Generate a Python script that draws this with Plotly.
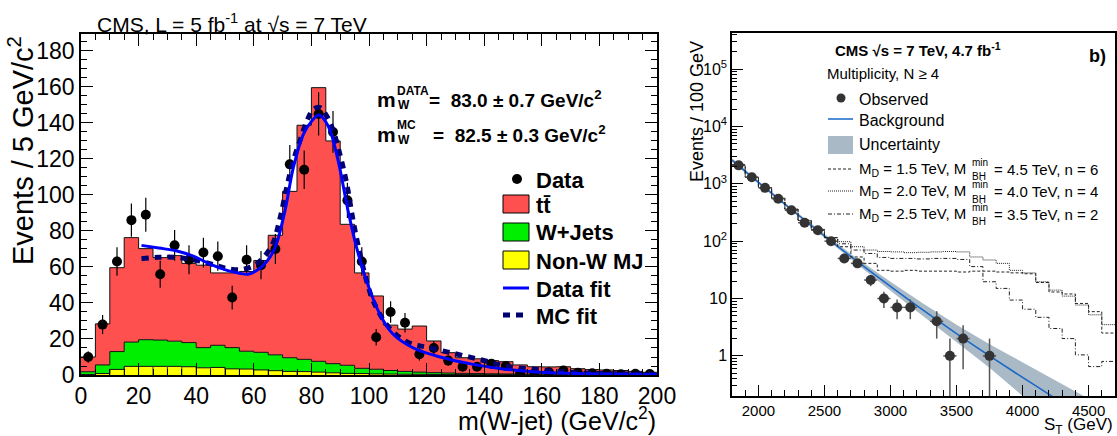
import numpy as np
import plotly.graph_objects as go

W, H = 1117, 436
FONT = "Liberation Sans, Arial, sans-serif"

# ---------------- Left panel data ----------------
bin_edges_l = list(range(0, 205, 5))
nonw = [0.3, 0.8, 3.1, 4.8, 4.8, 4.8, 4.8, 4.6, 4.0, 4.2, 3.4, 3.3, 2.8, 2.4, 2.0, 1.9, 1.6, 1.2, 0.9, 0.8,
        0.6, 0.5, 0.4, 0.35, 0.3, 0.3, 0.25, 0.2, 0.2, 0.2, 0.15, 0.15, 0.1, 0.1, 0.1, 0.1, 0.1, 0.05, 0.05, 0.05]
wjets = [1.5, 4.8, 9.9, 13.5, 14.8, 14.6, 14.0, 13.4, 11.2, 12.3, 11.8, 9.9, 9.8, 8.8, 7.6, 6.8, 6.0, 5.1, 4.5, 2.9,
         2.6, 2.0, 1.6, 1.25, 1.0, 0.8, 0.65, 0.6, 0.5, 0.4, 0.35, 0.35, 0.3, 0.3, 0.2, 0.2, 0.2, 0.15, 0.15, 0.15]
ttbar = [8.2, 22.8, 46.6, 58.0, 50.6, 45.8, 47.5, 44.0, 45.8, 40.2, 41.5, 44.3, 51.0, 66.4, 92.4, 130.0, 152.0, 123.7, 78.3, 53.0,
         40.7, 25.2, 23.5, 25.6, 17.6, 11.3, 8.7, 8.2, 7.3, 6.8, 5.1, 4.1, 4.1, 4.2, 3.2, 2.7, 2.5, 2.3, 1.8, 1.3]
data_centers = [2.5 + 5 * i for i in range(40)]
data_vals = [10, 28, 63, 86, 89, 56, 72, 64, 68, 66, 43, 64, 61, 70, 117, 114, 145, 135, 97, 63,
             21, 35, 29, 11.5, 15, 8, 4.6, 4.6, 6.3, 5, 1, 1, 1.5, 2.5, 1.2, 1, 0.7, 0.4, 0.7, 0.5]

datafit_x = [21, 27, 33, 39, 45, 51, 55, 58, 61, 64.5, 67.4, 70.8, 73.7, 77.2, 80.1, 82.6, 85.9, 89.3, 92.5, 95.7,
             99.2, 103.8, 108.4, 115.4, 124.7, 136.2, 147.8, 159.4, 172, 186, 200]
datafit_y = [72, 70.5, 69, 66, 61.5, 58, 56.5, 56, 58, 63, 70.7, 91, 115, 133.7, 141, 144.4, 138, 118.9, 93, 70.7,
             52, 33.7, 22.6, 15, 10, 5.9, 3.1, 1.5, 0.9, 0.5, 0.3]
mcfit_x = [21, 27, 32, 37, 42, 46.5, 51, 56, 60.5, 64, 66.6, 69.1, 71.4, 73.7, 76, 78.4, 80.7, 83, 85.3, 87.6,
           89.9, 92.3, 94.5, 96.9, 99.2, 101.5, 106.1, 110.8, 115.4, 120, 128, 138, 148, 158, 168, 180, 190, 200]
mcfit_y = [64.6, 65.4, 65.4, 64.6, 63, 61, 59, 58.6, 61.2, 66.5, 73, 87, 104, 119, 130, 141, 147.6, 148.5, 143.9, 135.6,
           122.6, 106, 85.6, 67, 52, 41, 28, 20.7, 17, 15.5, 12.5, 8.8, 4.8, 3.1, 1.6, 0.9, 0.5, 0.3]

# ---------------- Right panel data ----------------
obs_x = [1850, 1950, 2050, 2150, 2250, 2350, 2450, 2550, 2650, 2750, 2850, 2950, 3050, 3150, 3350, 3450, 3550, 3750]
obs_y = [2100, 1300, 850, 550, 345, 210, 155, 100, 50, 41, 21, 10, 7, 7, 4, 1, 2, 1]
bkg_x = [1800, 2000, 2250, 2500, 2750, 3000, 3250, 3500, 3750, 4000, 4250, 4500, 4700]
bkg_y = [2600, 1060, 356, 123, 44, 16.3, 6.2, 2.45, 1.0, 0.42, 0.18, 0.075, 0.04]
band_hi = [2800, 1125, 377, 133, 49.3, 19.6, 8.1, 3.5, 1.6, 0.78, 0.38, 0.18, 0.1]
band_lo = [2400, 1000, 336, 114, 39.3, 13.6, 4.8, 1.73, 0.62, 0.2, 0.086, 0.031, 0.015]
sig_edges = list(range(1800, 4800, 100))
sig_low = [2150, 1300, 860, 560, 360, 230, 160, 115]
sig_md15 = sig_low + [80, 53, 41, 31, 30, 31, 30, 30, 30, 29, 30, 30, 29, 28, 27, 19, 13, 12, 8.2, 5.9, 2.5]
sig_md20 = sig_low + [98, 80, 70, 66, 65, 63, 64, 65, 66, 65, 53, 47, 41, 31, 28, 19.6, 14, 11, 7.7, 5.2, 3.5]
sig_md25 = sig_low + [90, 70, 61, 52, 50, 50, 49, 50, 50, 48, 36, 19.6, 15, 9.4, 6.5, 4.7, 3.0, 2.0, 1.04, 0.65, 0.8]

fig = go.Figure()

# stacked histogram (left)
lvl1 = np.array(nonw)
lvl2 = lvl1 + np.array(wjets)
lvl3 = lvl2 + np.array(ttbar)
def step(v):
    return list(v) + [v[-1]]
for vals, col, fillmode in [(lvl1, "#ffff00", "tozeroy"), (lvl2, "#00ee00", "tonexty"), (lvl3, "#ff5050", "tonexty")]:
    fig.add_trace(go.Scatter(x=bin_edges_l, y=step(vals), mode="lines", line=dict(shape="hv", color="#111", width=1),
                             fill=fillmode, fillcolor=col, xaxis="x", yaxis="y", showlegend=False, hoverinfo="skip"))
# yellow bin separators
sx, sy = [], []
for i in range(1, 40):
    sx += [bin_edges_l[i], bin_edges_l[i], None]
    sy += [0, max(lvl1[i - 1], lvl1[i]), None]
fig.add_trace(go.Scatter(x=sx, y=sy, mode="lines", line=dict(color="#333", width=1), xaxis="x", yaxis="y",
                         showlegend=False, hoverinfo="skip"))
# data points
fig.add_trace(go.Scatter(x=data_centers, y=data_vals, mode="markers", marker=dict(color="black", size=10),
                         error_y=dict(type="data", array=list(np.sqrt(data_vals)), color="black", thickness=1.2, width=0),
                         xaxis="x", yaxis="y", showlegend=False))
fig.add_trace(go.Scatter(x=mcfit_x, y=mcfit_y, mode="lines", line=dict(color="#000070", width=5, dash="7px,6px", shape="spline"),
                         xaxis="x", yaxis="y", showlegend=False))
fig.add_trace(go.Scatter(x=datafit_x, y=datafit_y, mode="lines", line=dict(color="#0000ff", width=3, shape="spline"),
                         xaxis="x", yaxis="y", showlegend=False))

# right panel
fig.add_trace(go.Scatter(x=bkg_x + bkg_x[::-1], y=band_hi + band_lo[::-1], fill="toself", fillcolor="#a9b9c6",
                         line=dict(width=0), mode="lines", xaxis="x2", yaxis="y2", showlegend=False, hoverinfo="skip"))
fig.add_trace(go.Scatter(x=bkg_x, y=bkg_y, mode="lines", line=dict(color="#1767c8", width=1.5, shape="spline"),
                         xaxis="x2", yaxis="y2", showlegend=False))
for sig, dash in [(sig_md15, "3px,2px"), (sig_md20, "1px,1px"), (sig_md25, "4px,2px,1px,2px")]:
    fig.add_trace(go.Scatter(x=sig_edges, y=step(sig), mode="lines", line=dict(shape="hv", color="#222", width=1, dash=dash),
                             xaxis="x2", yaxis="y2", showlegend=False))
obs_err = list(np.sqrt(obs_y))
obs_err_lo = [min(e, v * 0.999) for e, v in zip(obs_err, obs_y)]
fig.add_trace(go.Scatter(x=obs_x, y=obs_y, mode="markers", marker=dict(color="#333", size=10),
                         error_y=dict(type="data", array=obs_err, arrayminus=obs_err_lo, color="#555", thickness=1.5, width=0),
                         error_x=dict(type="constant", value=50, color="#555", thickness=1.5, width=0),
                         xaxis="x2", yaxis="y2", showlegend=False))

def px(x):
    return x / W
def py(y):
    return 1 - y / H

axis_common = dict(showline=True, linecolor="black", linewidth=1.5, ticks="inside", tickcolor="black",
                   showgrid=False, zeroline=False, automargin=False)
fig.update_layout(
    width=W, height=H, margin=dict(l=0, r=0, t=0, b=0, pad=0, autoexpand=False),
    paper_bgcolor="white", plot_bgcolor="white", showlegend=False,
    font=dict(family=FONT, color="black"),
    xaxis=dict(domain=[px(81), px(657)], range=[0, 200], anchor="y", dtick=20, ticklen=12, mirror="allticks",
               tickfont=dict(size=23), minor=dict(dtick=5, ticklen=6, ticks="inside", tickcolor="black"), **axis_common),
    yaxis=dict(domain=[py(375), py(34)], range=[0, 189.4], anchor="x", dtick=20, ticklen=12, mirror="allticks",
               tickfont=dict(size=23), minor=dict(dtick=5, ticklen=6, ticks="inside", tickcolor="black"), **axis_common),
    xaxis2=dict(domain=[px(732), px(1115)], range=[1800, 4700], anchor="y2", dtick=500, ticklen=11, mirror=True,
                tickfont=dict(size=15), minor=dict(dtick=100, ticklen=6, ticks="inside", tickcolor="black"), **axis_common),
    yaxis2=dict(domain=[py(396), py(33)], type="log", range=[-0.7, 5.63], anchor="x2", ticklen=11, mirror=True,
                tickmode="array", tickvals=[1, 10, 100, 1e3, 1e4, 1e5],
                ticktext=["1", "10", "10<sup>2</sup>", "10<sup>3</sup>", "10<sup>4</sup>", "10<sup>5</sup>"],
                tickfont=dict(size=16),
                minor=dict(tickmode="array", tickvals=[m * 10 ** e for e in range(-1, 6) for m in range(2, 10)],
                           ticklen=5, ticks="inside", tickcolor="black"), **axis_common),
)

ann = []
def text(x, y, s, size, bold=False, xanchor="left", yanchor="middle", angle=0, color="black"):
    if bold:
        s = "<b>" + s + "</b>"
    ann.append(dict(x=px(x), y=py(y), xref="paper", yref="paper", text=s, showarrow=False, xanchor=xanchor,
                    yanchor=yanchor, textangle=angle, font=dict(size=size, color=color, family=FONT),
                    borderpad=0))

shapes = []
def rect(x0, y0, x1, y1, fill, line="black", lw=1):
    shapes.append(dict(type="rect", xref="paper", yref="paper", x0=px(x0), x1=px(x1), y0=py(y1), y1=py(y0),
                       fillcolor=fill, line=dict(color=line, width=lw)))
def hline(x0, x1, y, color, width, dash="solid"):
    shapes.append(dict(type="line", xref="paper", yref="paper", x0=px(x0), x1=px(x1), y0=py(y), y1=py(y),
                       line=dict(color=color, width=width, dash=dash)))
def dot(x, y, r, color):
    shapes.append(dict(type="circle", xref="paper", yref="paper", x0=px(x - r), x1=px(x + r), y0=py(y + r), y1=py(y - r),
                       fillcolor=color, line=dict(color=color, width=0)))

# left texts
text(96, 23, "CMS, L = 5 fb<sup>-1</sup> at √s = 7 TeV", 21)
text(21, 151, "Events / 5 GeV/c<sup>2</sup>", 29, angle=-90, xanchor="center")
text(657, 419, "m(W-jet) (GeV/c<sup>2</sup>)", 25, xanchor="right")
text(376, 99, "m", 21, bold=True)
text(396, 91, "DATA", 12, bold=True)
text(397, 105, "W", 12, bold=True)
text(428, 99, "=  83.0 ± 0.7 GeV/c<sup>2</sup>", 19, bold=True)
text(376, 134, "m", 21, bold=True)
text(396, 125, "MC", 12, bold=True)
text(397, 140, "W", 12, bold=True)
text(432, 134, "=  82.5 ± 0.3 GeV/c<sup>2</sup>", 19, bold=True)
# left legend
dot(517, 179, 5, "black")
text(535, 180, "Data", 22, bold=True)
rect(503, 195, 529, 213, "#ff5050")
text(535, 206, "tt\u0304", 22, bold=True)
rect(503, 223, 529, 241, "#00ee00")
text(535, 233, "W+Jets", 22, bold=True)
rect(503, 251, 529, 269, "#ffff00")
text(535, 261, "Non-W MJ", 22, bold=True)
hline(503, 529, 288, "#0000ff", 3)
text(535, 289, "Data fit", 22, bold=True)
hline(503, 529, 315, "#000070", 5, "7px,6px")
text(535, 316, "MC fit", 22, bold=True)

# right texts
text(697, 112, "Events / 100 GeV", 18, angle=-90, xanchor="center")
text(1114, 426, "S<sub>T</sub> (GeV)", 17, xanchor="right")
text(834, 50, "CMS √s = 7 TeV, 4.7 fb<sup>-1</sup>", 15, bold=True)
text(1088, 56, "b)", 18, bold=True)
text(826, 73, "Multiplicity, N ≥ 4", 15)
dot(841, 98, 4.5, "#333")
text(858, 99, "Observed", 16)
hline(828, 853, 119, "#1767c8", 1.5)
text(858, 120, "Background", 16)
rect(828, 136, 853, 154, "#a9b9c6", line="#a9b9c6", lw=0)
text(858, 145, "Uncertainty", 16)
for yy, md, mbh, n, dash in [(169, "1.5", "4.5", "6", "3px,2px"), (191, "2.0", "4.0", "4", "1px,1px"),
                             (214, "2.5", "3.5", "2", "4px,2px,1px,2px")]:
    hline(828, 853, yy, "#222", 1, dash)
    text(858, yy, "M<sub>D</sub> = " + md + " TeV, M", 15)
    text(971, yy - 7, "min", 10)
    text(971, yy + 8, "BH", 10)
    text(993, yy, "= " + mbh + " TeV, n = " + n, 15)

fig.update_layout(annotations=ann, shapes=shapes)
fig.write_html("out.html", config={"displayModeBar": False},
               post_script="document.body.style.margin='0';document.body.style.padding='0';"
                           "document.documentElement.style.overflow='hidden';")
